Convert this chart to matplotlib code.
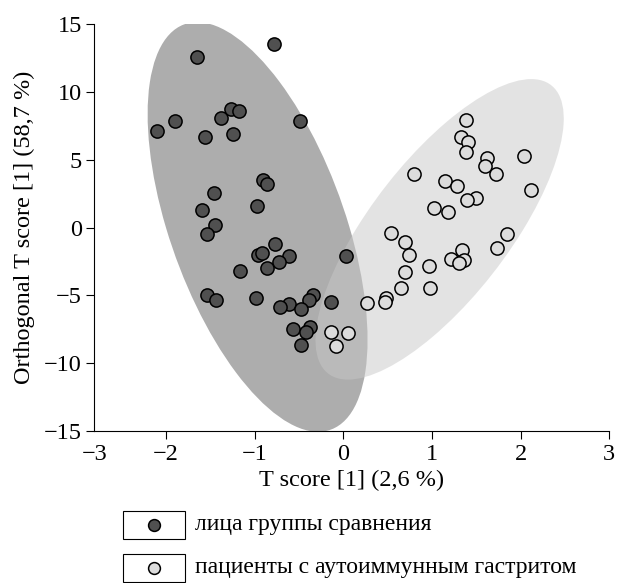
import numpy as np
import matplotlib
matplotlib.use("Agg")
import matplotlib.pyplot as plt
from matplotlib.patches import Ellipse, Rectangle
from matplotlib.lines import Line2D

plt.rcParams['font.family'] = ['Liberation Serif', 'DejaVu Serif']

# OPLS-DA scores: comparison group
control_t = [-1.653, -0.785, -1.897, -2.100, -1.382, -1.266, -1.176, -0.492, -1.559, -1.240,
             -0.902, -0.857, -1.454, -1.597, -0.976, -1.446, -1.533, -0.767, -0.965, -0.913,
             -0.609, -0.728, -0.857, -1.161, 0.030, -1.540, -1.439, -0.981, -0.345, -0.387,
             -0.612, -0.710, -0.480, -0.142, -0.567, -0.379, -0.421, -0.480]
control_to = [12.57, 13.53, 7.87, 7.13, 8.09, 8.71, 8.56, 7.85, 6.64, 6.91,
              3.48, 3.19, 2.53, 1.32, 1.57, 0.22, -0.49, -1.20, -2.03, -1.91,
              -2.13, -2.57, -3.01, -3.24, -2.10, -4.97, -5.34, -5.17, -4.97, -5.34,
              -5.61, -5.83, -6.03, -5.51, -7.47, -7.35, -7.67, -8.65]

# autoimmune gastritis patients
patient_t = [1.380, 1.323, 1.406, 1.383, 2.041, 1.617, 1.598, 1.722, 0.800, 1.147,
             1.282, 2.113, 1.500, 1.391, 1.023, 1.180, 0.534, 1.842, 0.692, 1.729,
             0.744, 1.338, 1.211, 1.364, 1.308, 0.966, 0.699, 0.647, 0.977, 0.264,
             0.481, 0.470, -0.139, 0.057, -0.082]
patient_to = [7.92, 6.69, 6.32, 5.54, 5.25, 5.15, 4.54, 3.95, 3.97, 3.43,
              3.07, 2.75, 2.18, 2.01, 1.47, 1.18, -0.39, -0.51, -1.10, -1.49,
              -2.06, -1.69, -2.32, -2.43, -2.65, -2.87, -3.31, -4.46, -4.46, -5.54,
              -5.17, -5.49, -7.72, -7.77, -8.70]

group_labels = ['лица группы сравнения', 'пациенты с аутоиммунным гастритом']

x_ticks = [-2.81, -2, -1, 0, 1, 2, 3]
x_ticklabels = ['−3', '−2', '−1', '0', '1', '2', '3']
y_ticks = [-15, -10, -5, 0, 5, 10, 15]
y_ticklabels = ['−15', '−10', '−5', '0', '5', '10', '15']


def conf_ellipse(x, y, k, **kw):
    pts = np.column_stack([x, y])
    mean = pts.mean(axis=0)
    cov = np.cov(pts, rowvar=False)
    vals, vecs = np.linalg.eigh(cov)
    order = vals.argsort()[::-1]
    vals, vecs = vals[order], vecs[:, order]
    angle = np.degrees(np.arctan2(vecs[1, 0], vecs[0, 0]))
    return Ellipse(mean, 2 * k * np.sqrt(vals[0]), 2 * k * np.sqrt(vals[1]),
                   angle=angle, **kw)


fig = plt.figure(figsize=(6.17, 5.83), dpi=100)
ax = fig.add_axes([0.1528, 0.2607, 0.8347, 0.6981])

k95 = np.sqrt(5.991)
ax.add_patch(conf_ellipse(control_t, control_to, k95, facecolor='#adadad',
                          edgecolor='none', zorder=1))
ax.add_patch(conf_ellipse(patient_t, patient_to, k95, facecolor='#c8c8c8',
                          edgecolor='none', alpha=0.5, zorder=2))

ax.plot(control_t, control_to, 'o', ms=9.5, mfc='#505050', mec='black', mew=1.1, zorder=3)
ax.plot(patient_t, patient_to, 'o', ms=9.5, mfc='#dcdcdc', mec='black', mew=1.1, zorder=3)

ax.set_xlim(-2.81, 3.0)
ax.set_ylim(-15, 15)
ax.set_xticks(x_ticks)
ax.set_xticklabels(x_ticklabels)
ax.set_yticks(y_ticks)
ax.set_yticklabels(y_ticklabels)
ax.xaxis.get_major_ticks()[0].tick1line.set_visible(False)
ax.tick_params(direction='out', length=6, width=0.8, labelsize=17.5, pad=3)
for side in ['top', 'right']:
    ax.spines[side].set_visible(False)
for side in ['left', 'bottom']:
    ax.spines[side].set_linewidth(0.8)

ax.set_xlabel('T score [1] (2,6 %)', fontsize=17.5, labelpad=4)
ax.set_ylabel('Orthogonal T score [1] (58,7 %)', fontsize=17.5, labelpad=6)

# legend rows: framed marker box + label
row_y = [0.0995, 0.026]
styles = [('#505050', group_labels[0]), ('#dcdcdc', group_labels[1])]
for ry, (fc, text) in zip(row_y, styles):
    fig.patches.append(Rectangle((0.1995, ry - 0.024), 0.1005, 0.048, transform=fig.transFigure,
                                 facecolor='white', edgecolor='black', linewidth=0.8))
    fig.lines.append(Line2D([0.2497], [ry], marker='o', ms=8.5, mfc=fc, mec='black', mew=1.1,
                            transform=fig.transFigure))
    fig.text(0.316, ry, text, fontsize=17, va='center', ha='left')

fig.savefig('out.png', dpi=100)
